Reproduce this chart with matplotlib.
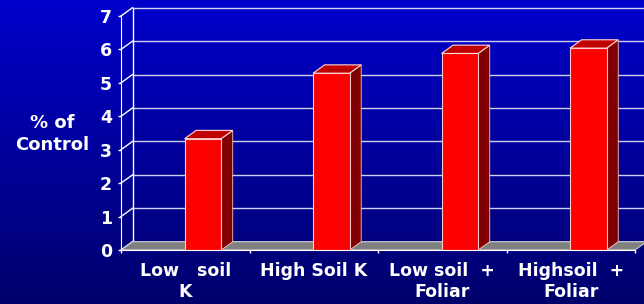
import matplotlib
matplotlib.use("Agg")
import matplotlib.pyplot as plt
import numpy as np
from matplotlib.patches import Polygon

# data
categories = ["Low   soil\nK", "High Soil K", "Low soil  +\nFoliar", "Highsoil  +\nFoliar"]
values = [3.33, 5.29, 5.88, 6.04]
yticks = [0, 1, 2, 3, 4, 5, 6, 7]

W, H = 644, 304
fig = plt.figure(figsize=(W / 100, H / 100), dpi=100)

# blue gradient background
bg = fig.add_axes([0, 0, 1, 1], zorder=-10)
grad = np.linspace(0, 1, 256).reshape(-1, 1)
top = np.array([0, 0, 204]) / 255
bot = np.array([0, 0, 108]) / 255
img = top + (bot - top) * grad[..., None]
bg.imshow(np.repeat(img, 2, axis=1), aspect="auto", extent=[0, 1, 0, 1])
bg.axis("off")

# front axis at x=121px, zero at y=250px, 7 at y=16px
cat_px = 128.5
x0, y0, y7 = 121, 250, 16
ax = fig.add_axes([x0 / W, (H - y0) / H, (W - x0) / W, (y0 - y7) / H])
ax.set_facecolor("none")
ax.set_xlim(-0.5, -0.5 + (W - x0) / cat_px)
ax.set_ylim(0, 7)

# depth offset for the 3d look (data units)
ddx = 11.5 / cat_px
ddy = 8.3 / ((y0 - y7) / 7)
xr = ax.get_xlim()[1]

# back wall
for v in yticks:
    ax.plot([-0.5 + ddx, xr], [v + ddy, v + ddy], color="#d0d0f0", lw=1, clip_on=False, zorder=1)
    ax.plot([-0.5, -0.5 + ddx], [v, v + ddy], color="white", lw=1, clip_on=False, zorder=1)
ax.plot([-0.5 + ddx, -0.5 + ddx], [ddy, 7 + ddy], color="white", lw=1, clip_on=False, zorder=1)

# floor
n = len(values)
floor = Polygon([(-0.5, 0), (n - 0.5, 0), (n - 0.5 + ddx, ddy), (-0.5 + ddx, ddy)],
                closed=True, facecolor="#808080", edgecolor="#d0d0d0", lw=0.8, zorder=2, clip_on=False)
ax.add_patch(floor)

# bars
bw = 0.285
lefts = np.arange(n) - 0.005
ax.bar(lefts, values, width=bw, align="edge", color="#ff0000", edgecolor="#ffc8c8", lw=0.8, zorder=4)
for l, v in zip(lefts, values):
    r = l + bw
    side = Polygon([(r, 0), (r + ddx, ddy), (r + ddx, v + ddy), (r, v)], closed=True,
                   facecolor="#800000", edgecolor="#ffc8c8", lw=0.6, zorder=3)
    topf = Polygon([(l, v), (r, v), (r + ddx, v + ddy), (l + ddx, v + ddy)], closed=True,
                   facecolor="#c00000", edgecolor="#ffd8d8", lw=0.8, zorder=5)
    ax.add_patch(side)
    ax.add_patch(topf)

# axes styling
for s in ["top", "right"]:
    ax.spines[s].set_visible(False)
ax.spines["left"].set_color("white")
ax.spines["bottom"].set_color("white")
ax.spines["bottom"].set_bounds(-0.5, n - 0.5)
ax.spines["left"].set_zorder(6)
ax.spines["bottom"].set_zorder(6)

ax.set_yticks(yticks)
ax.set_yticklabels([str(t) for t in yticks], color="white", fontsize=12.5, fontweight="bold")
ax.tick_params(axis="y", colors="white", length=2.5, width=1, pad=4)

ax.set_xticks(np.arange(n))
ax.set_xticklabels(categories, color="white", fontsize=12.5, fontweight="bold", linespacing=1.15)
ax.set_xticks(np.arange(n + 1) - 0.5, minor=True)
ax.tick_params(axis="x", which="major", length=0, pad=9)
ax.tick_params(axis="x", which="minor", colors="white", length=2.5, width=1)

fig.text(52 / W, 1 - 134 / H, "% of\nControl", color="white", fontsize=13, fontweight="bold",
         ha="center", va="center", multialignment="center", linespacing=1.3)

fig.savefig("out.png", dpi=100)
